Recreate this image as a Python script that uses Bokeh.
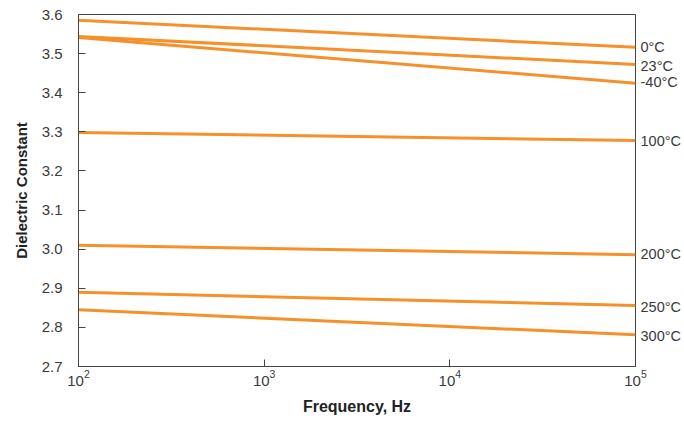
from bokeh.plotting import figure
from bokeh.models import FixedTicker, CustomJSTickFormatter, LinearAxis, Range1d
from bokeh.embed import file_html
from bokeh.resources import INLINE

freq = [1e2, 1e5]
series_names = ["0°C", "23°C", "-40°C", "100°C", "200°C", "250°C", "300°C"]
start_vals = [3.585, 3.544, 3.541, 3.298, 3.010, 2.890, 2.845]
end_vals = [3.516, 3.472, 3.424, 3.278, 2.986, 2.856, 2.781]
label_vals = [3.516, 3.468, 3.428, 3.276, 2.988, 2.852, 2.778]
x_ticks = [1e2, 1e3, 1e4, 1e5]
y_ticks = [2.7, 2.8, 2.9, 3.0, 3.1, 3.2, 3.3, 3.4, 3.5, 3.6]

FONT = "Liberation Sans"
ORANGE = "#f5902a"

p = figure(width=684, height=421, x_axis_type="log", output_backend="svg",
           toolbar_location=None, x_range=Range1d(1e2, 1e5), y_range=Range1d(2.7, 3.6),
           min_border_left=78, min_border_right=49, min_border_top=14, min_border_bottom=55)

p.xgrid.visible = False
p.ygrid.visible = False
p.outline_line_color = "#444444"
p.outline_line_width = 1

for name, s, e in zip(series_names, start_vals, end_vals):
    p.line(freq, [s, e], line_color=ORANGE, line_width=3)

rax = LinearAxis(ticker=FixedTicker(ticks=label_vals, minor_ticks=[]),
                 major_label_overrides={v: n for v, n in zip(label_vals, series_names)})
rax.axis_line_color = None
rax.major_tick_line_color = None
rax.major_tick_in = 0
rax.major_tick_out = 0
rax.major_label_standoff = 5
rax.major_label_text_font = FONT
rax.major_label_text_font_size = "14.5px"
rax.major_label_text_color = "#3a3a3a"
p.add_layout(rax, "right")

p.xaxis[0].ticker = FixedTicker(ticks=x_ticks, minor_ticks=[])
p.yaxis[0].ticker = FixedTicker(ticks=y_ticks, minor_ticks=[])
p.yaxis[0].formatter = CustomJSTickFormatter(code="return tick.toFixed(1);")

for ax in (p.xaxis[0], p.yaxis[0]):
    ax.axis_line_color = "#444444"
    ax.major_tick_line_color = "#444444"
    ax.major_tick_in = 7
    ax.major_tick_out = 0
    ax.minor_tick_line_color = None
    ax.major_label_text_font = FONT
    ax.major_label_text_font_size = "15px"
    ax.major_label_text_color = "#3a3a3a"
    ax.axis_label_text_font = FONT
    ax.axis_label_text_font_style = "bold"
    ax.axis_label_text_color = "#222222"

p.xaxis[0].axis_label = "Frequency, Hz"
p.yaxis[0].axis_label = "Dielectric Constant"
p.xaxis[0].axis_label_text_font_size = "16px"
p.yaxis[0].axis_label_text_font_size = "15px"
p.xaxis[0].major_label_standoff = 3
p.xaxis[0].axis_label_standoff = 9
p.yaxis[0].major_label_standoff = 16
p.yaxis[0].axis_label_standoff = 9

open("out.html", "w").write(file_html(p, INLINE))
